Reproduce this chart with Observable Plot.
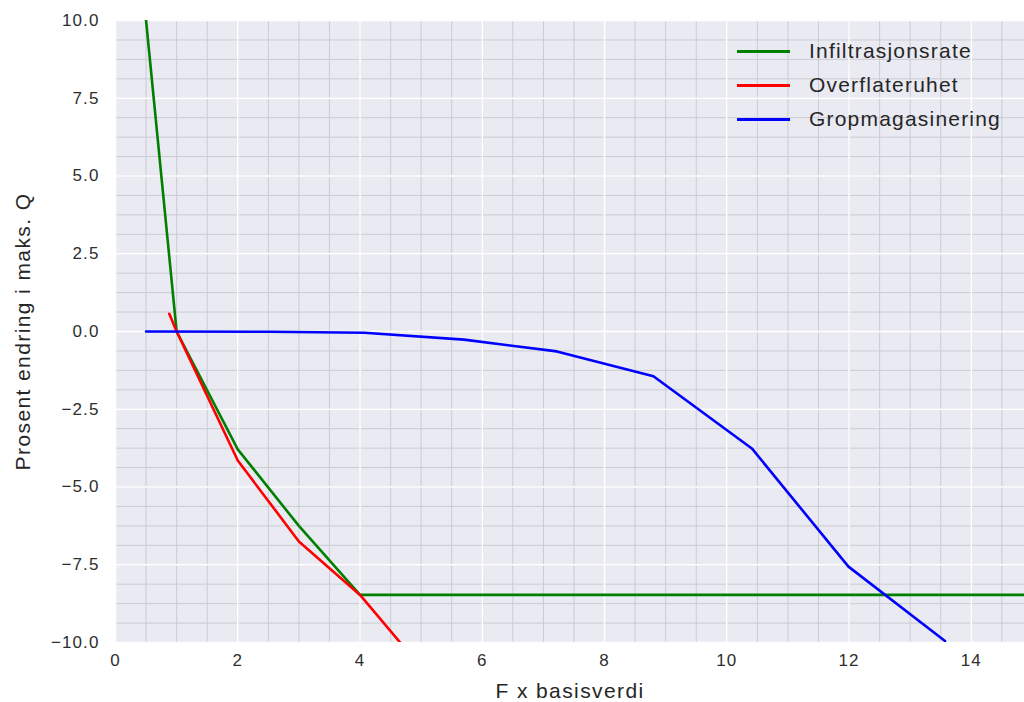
<!DOCTYPE html>
<html>
<head>
<meta charset="utf-8">
<script src="https://cdn.jsdelivr.net/npm/d3@7"></script>
<script src="https://cdn.jsdelivr.net/npm/@observablehq/plot@0.6"></script>
<style>
  html, body { margin: 0; padding: 0; background: #fff; }
  #wrap { position: relative; width: 1024px; height: 702px; }
  #wrap svg text { font-family: "Liberation Sans", Arial, sans-serif; }
  g[aria-label="x-axis tick label"] text, g[aria-label="y-axis tick label"] text { letter-spacing: 1.1px; }
  .axlabel text { letter-spacing: 1.4px; }
  #legend { position: absolute; left: 737px; top: 34px; font-family: "Liberation Sans", Arial, sans-serif; font-size: 21px; color: #262626; letter-spacing: 1.2px; }
  #legend .row { display: flex; align-items: center; height: 34px; }
  #legend .sw { width: 53px; height: 3px; margin-right: 19px; }
</style>
</head>
<body>
<div id="wrap"></div>
<script>
// Series names and colours
const seriesNames = ["Infiltrasjonsrate", "Overflateruhet", "Gropmagasinering"];
const seriesColors = ["green", "red", "blue"];

// Infiltrasjonsrate
const infX = [0.5, 1, 2, 3, 4, 15];
const infY = [10.0, 0.0, -3.79, -6.25, -8.47, -8.47];

// Overflateruhet
const ovfX = [0.88, 1, 2, 3, 4, 5];
const ovfY = [0.57, 0.0, -4.15, -6.75, -8.47, -10.8];

// Gropmagasinering
const grpX = [0.5, 2.5, 4.07, 5.7, 7.22, 8.8, 10.41, 11.99, 13.57];
const grpY = [0.0, -0.01, -0.04, -0.26, -0.64, -1.44, -3.76, -7.56, -9.95];

// Ticks
const xTicks = [0, 2, 4, 6, 8, 10, 12, 14];
const yTicks = [-10, -7.5, -5, -2.5, 0, 2.5, 5, 7.5, 10];
const xMinor = d3.range(0, 15, 0.5);
const yMinor = d3.range(-10, 10.001, 0.625);

const xLabel = "F x basisverdi";
const yLabel = "Prosent endring i maks. Q";

const toRows = (xs, ys, s) => xs.map((x, i) => ({x, y: ys[i], s}));
const rows = [
  ...toRows(infX, infY, seriesNames[0]),
  ...toRows(ovfX, ovfY, seriesNames[1]),
  ...toRows(grpX, grpY, seriesNames[2])
];

const chart = Plot.plot({
  width: 1024,
  height: 702,
  marginLeft: 115,
  marginRight: 0,
  marginTop: 20,
  marginBottom: 60,
  x: {domain: [0, 14.87]},
  y: {domain: [-10, 10]},
  color: {domain: seriesNames, range: seriesColors},
  marks: [
    Plot.frame({fill: "#EAEAF2", stroke: null}),
    Plot.ruleX(xMinor, {stroke: "#cbcbd3", strokeWidth: 1}),
    Plot.ruleY(yMinor, {stroke: "#cbcbd3", strokeWidth: 1}),
    Plot.ruleX(xTicks, {stroke: "#ffffff", strokeWidth: 1.5}),
    Plot.ruleY(yTicks, {stroke: "#ffffff", strokeWidth: 1.5}),
    Plot.line(rows, {x: "x", y: "y", z: "s", stroke: "s", strokeWidth: 2.6, clip: true}),
    Plot.axisX(xTicks, {tickSize: 0, tickPadding: 11, fontSize: 17, fill: "#2e2e2e", label: null}),
    Plot.axisY(yTicks, {tickSize: 0, tickPadding: 16, fontSize: 17, fill: "#2e2e2e", label: null, tickFormat: d3.format(".1f")}),
    Plot.text([xLabel], {frameAnchor: "bottom", dy: 49, text: d => d, fontSize: 21, fill: "#262626", lineAnchor: "middle", textAnchor: "middle", className: "axlabel"}),
    Plot.text([yLabel], {frameAnchor: "left", dx: -92, rotate: -90, text: d => d, fontSize: 21, fill: "#262626", lineAnchor: "middle", textAnchor: "middle", className: "axlabel"})
  ]
});

const wrap = document.getElementById("wrap");
wrap.appendChild(chart);

const legend = document.createElement("div");
legend.id = "legend";
seriesNames.forEach((name, i) => {
  const row = document.createElement("div");
  row.className = "row";
  const sw = document.createElement("div");
  sw.className = "sw";
  sw.style.background = seriesColors[i];
  const lab = document.createElement("span");
  lab.textContent = name;
  row.appendChild(sw);
  row.appendChild(lab);
  legend.appendChild(row);
});
wrap.appendChild(legend);
</script>
</body>
</html>
